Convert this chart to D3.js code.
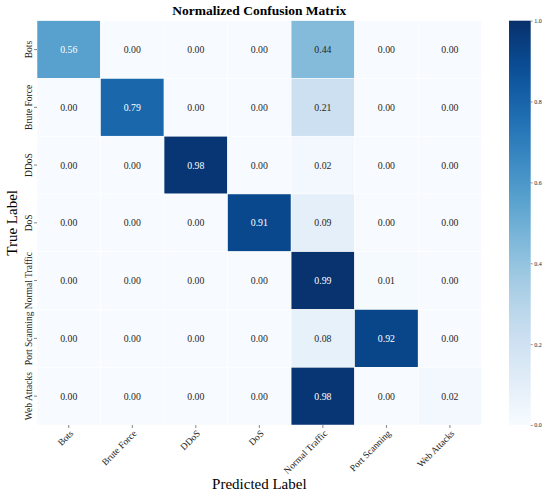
<!DOCTYPE html>
<html><head><meta charset="utf-8">
<script src="https://cdn.jsdelivr.net/npm/d3@7"></script>
<style>body{margin:0;background:#fff;}</style>
</head><body><svg id="c" width="550" height="497" font-family="'Liberation Serif', 'Times New Roman', serif"></svg>
<script>
const categories = ["Bots","Brute Force","DDoS","DoS","Normal Traffic","Port Scanning","Web Attacks"];
const matrix = [
  [0.56,0.00,0.00,0.00,0.44,0.00,0.00],
  [0.00,0.79,0.00,0.00,0.21,0.00,0.00],
  [0.00,0.00,0.98,0.00,0.02,0.00,0.00],
  [0.00,0.00,0.00,0.91,0.09,0.00,0.00],
  [0.00,0.00,0.00,0.00,0.99,0.01,0.00],
  [0.00,0.00,0.00,0.00,0.08,0.92,0.00],
  [0.00,0.00,0.00,0.00,0.98,0.00,0.02]
];
const cbTicks = [0.0,0.2,0.4,0.6,0.8,1.0];
const FONT = "'Liberation Serif', 'Times New Roman', serif";

const svg = d3.select("#c");
const L=37, T=20.7, R=481.7, B=425;
const x = d3.scaleBand().domain(categories).range([L,R]);
const y = d3.scaleBand().domain(categories).range([T,B]);
const color = d3.scaleSequential(d3.interpolateBlues).domain([0,1]);

const cells = [];
matrix.forEach((row,i)=>row.forEach((v,j)=>cells.push({t:categories[i],p:categories[j],v})));

svg.append("g").selectAll("rect").data(cells).join("rect")
  .attr("x",d=>x(d.p)).attr("y",d=>y(d.t))
  .attr("width",x.bandwidth()).attr("height",y.bandwidth())
  .attr("fill",d=>color(d.v)).attr("stroke","#fff").attr("stroke-width",0.5);

function lum(c){const r=d3.rgb(c);const f=u=>{u/=255;return u<=0.03928?u/12.92:Math.pow((u+0.055)/1.055,2.4);};return 0.2126*f(r.r)+0.7152*f(r.g)+0.0722*f(r.b);}
svg.append("g").attr("font-family",FONT).selectAll("text").data(cells).join("text")
  .attr("x",d=>x(d.p)+x.bandwidth()/2).attr("y",d=>y(d.t)+y.bandwidth()/2)
  .attr("text-anchor","middle").attr("dominant-baseline","central")
  .attr("font-size",9.8)
  .attr("fill",d=>lum(color(d.v))>0.408?"#262626":"#ffffff")
  .text(d=>d.v.toFixed(2));

// x axis
const xa = svg.append("g").attr("transform",`translate(0,${B})`)
  .call(d3.axisBottom(x).tickSize(3).tickPadding(3));
xa.attr("font-family",FONT);
xa.select(".domain").remove();
xa.selectAll("line").attr("stroke","#333").attr("stroke-width",0.6);
xa.selectAll("text").attr("font-size",9.5).attr("fill","#222")
  .attr("text-anchor","end").attr("dy","0.6em")
  .attr("y",0).attr("x",0)
  .attr("transform","translate(1,5) rotate(-45)");

// y axis
const ya = svg.append("g").attr("transform",`translate(${L},0)`)
  .call(d3.axisLeft(y).tickSize(3).tickPadding(3));
ya.attr("font-family",FONT);
ya.select(".domain").remove();
ya.selectAll("line").attr("stroke","#333").attr("stroke-width",0.6);
ya.selectAll("text").attr("font-size",9.5).attr("fill","#222")
  .attr("text-anchor","middle").attr("x",0).attr("y",0).attr("dy",0)
  .attr("transform","translate(-5,0) rotate(-90)");

// titles
svg.append("text").attr("x",(L+R)/2).attr("y",14.5).attr("text-anchor","middle")
  .attr("font-size",13.5).attr("font-weight","bold").text("Normalized Confusion Matrix");
svg.append("text").attr("x",(L+R)/2).attr("y",489).attr("text-anchor","middle")
  .attr("font-size",15).text("Predicted Label");
svg.append("text").attr("transform",`translate(17,${(T+B)/2}) rotate(-90)`).attr("text-anchor","middle")
  .attr("font-size",15).text("True Label");

// colorbar
const cbX=509, cbW=21.7;
const cy = d3.scaleLinear().domain([0,1]).range([B,T]);
const defs = svg.append("defs");
const grad = defs.append("linearGradient").attr("id","g").attr("x1",0).attr("y1",1).attr("x2",0).attr("y2",0);
d3.range(0,1.001,0.05).forEach(t=>grad.append("stop").attr("offset",t).attr("stop-color",color(t)));
svg.append("rect").attr("x",cbX).attr("y",T).attr("width",cbW).attr("height",B-T).attr("fill","url(#g)");
const ca = svg.append("g").attr("transform",`translate(${cbX+cbW},0)`)
  .call(d3.axisRight(cy).tickValues(cbTicks).tickFormat(d3.format(".1f")).tickSize(2).tickPadding(1.5));
ca.attr("font-family",FONT);
ca.select(".domain").remove();
ca.selectAll("line").attr("stroke","#333").attr("stroke-width",0.5);
ca.selectAll("text").attr("font-size",6).attr("fill","#222");
</script></body></html>
